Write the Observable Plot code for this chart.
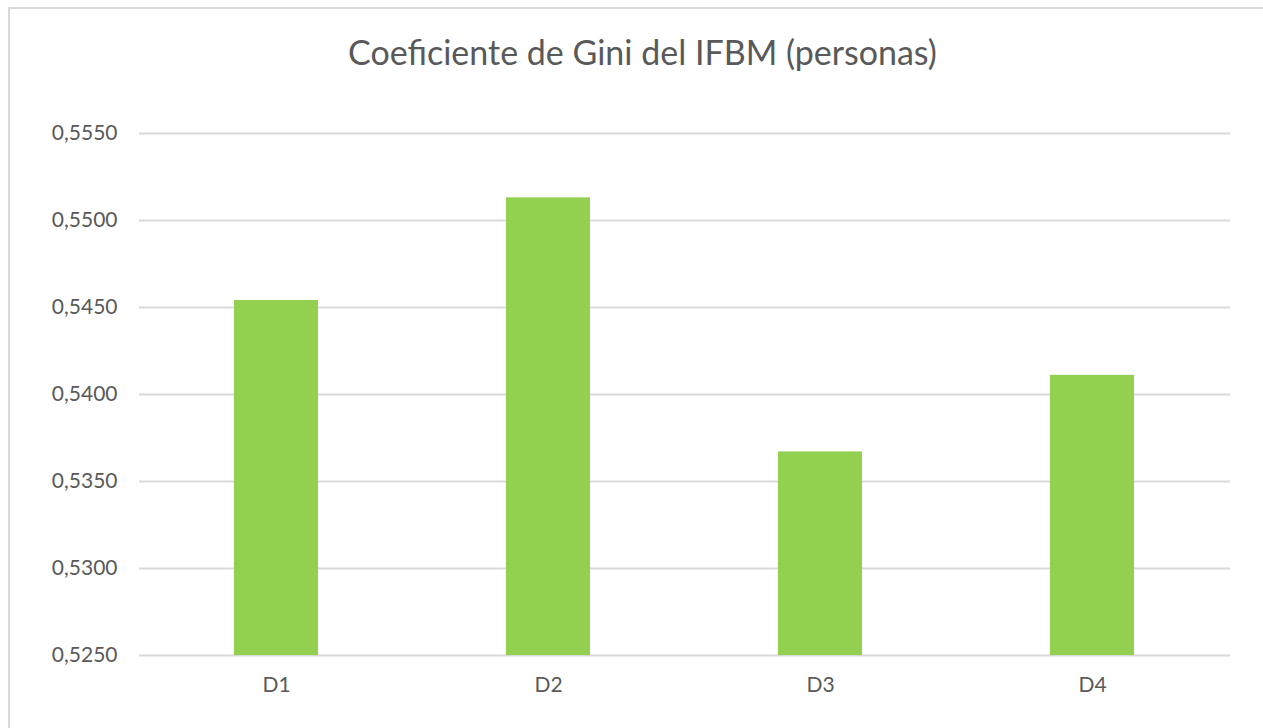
<!DOCTYPE html>
<html>
<head>
<meta charset="utf-8">
<script src="https://cdn.jsdelivr.net/npm/d3@7"></script>
<script src="https://cdn.jsdelivr.net/npm/@observablehq/plot@0.6"></script>
<style>
  html, body { margin: 0; padding: 0; background: #fff; overflow: hidden; }
  #wrap { position: relative; width: 1263px; height: 728px; overflow: hidden; font-family: Lato, "Open Sans", sans-serif; }
  #frame { position: absolute; left: 8px; top: 7px; width: 1300px; height: 800px; border: 2px solid #d9d9d9; box-sizing: border-box; }
  #title { position: relative; height: 100px; box-sizing: border-box; padding-top: 32px; text-align: center; font-size: 34px; line-height: 40px; color: #595959; padding-left: 22px; }
  #chart { position: relative; }
</style>
</head>
<body>
<div id="wrap">
  <div id="frame"></div>
  <div id="title">Coeficiente de Gini del IFBM (personas)</div>
  <div id="chart"></div>
</div>
<script>
const categories = ["D1", "D2", "D3", "D4"];
const values = [0.5454, 0.5513, 0.5367, 0.5411];
const yTicks = [0.5250, 0.5300, 0.5350, 0.5400, 0.5450, 0.5500, 0.5550];

const data = categories.map((c, i) => ({cat: c, value: values[i]}));
const yMin = yTicks[0];
const fmt = d => d.toFixed(4).replace(".", ",");

const chart = Plot.plot({
  width: 1263,
  height: 628,
  marginTop: 33,
  marginBottom: 73,
  marginLeft: 139,
  marginRight: 33,
  style: {fontFamily: "Lato, 'Open Sans', sans-serif", fontSize: "21px", color: "#595959", background: "transparent"},
  x: {domain: categories, paddingInner: 0.69, paddingOuter: 0.345, label: null},
  y: {domain: [yTicks[0], yTicks[yTicks.length - 1]], label: null},
  marks: [
    Plot.gridY(yTicks, {stroke: "#d9d9d9", strokeOpacity: 1, strokeWidth: 2}),
    Plot.barY(data, {x: "cat", y1: () => yMin, y2: "value", fill: "#92d050"}),
    Plot.axisY(yTicks, {tickSize: 0, tickPadding: 22, tickFormat: fmt, fill: "#595959"}),
    Plot.axisX({tickSize: 0, tickPadding: 22, fill: "#595959"})
  ]
});
document.getElementById("chart").appendChild(chart);
</script>
</body>
</html>
